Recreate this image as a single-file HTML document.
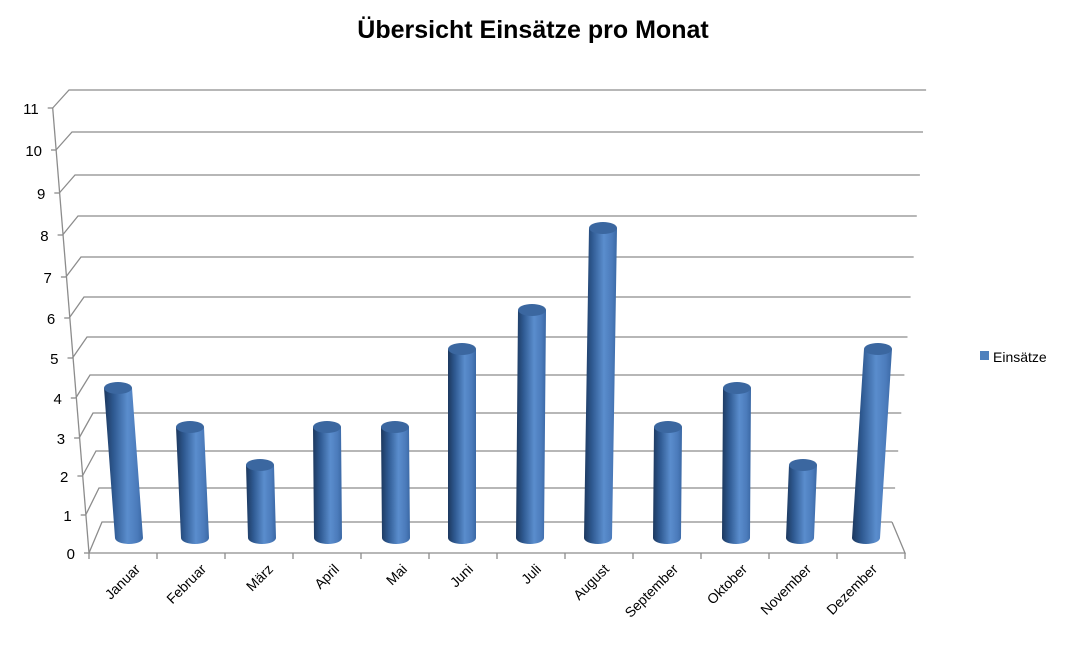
<!DOCTYPE html>
<html><head><meta charset="utf-8"><style>body{margin:0;background:#fff}svg{display:block}</style></head><body>
<svg width="1067" height="666" viewBox="0 0 1067 666" xmlns="http://www.w3.org/2000/svg" font-family="Liberation Sans, sans-serif">
<defs>
<linearGradient id="g" x1="0" x2="1" y1="0" y2="0">
<stop offset="0" stop-color="#1c385e"/><stop offset="0.25" stop-color="#2f5a92"/><stop offset="0.6" stop-color="#5a8dcd"/><stop offset="0.85" stop-color="#4b7bbb"/><stop offset="1" stop-color="#3a68a4"/>
</linearGradient>
</defs>
<rect width="1067" height="666" fill="#fff"/>
<text x="533" y="38" text-anchor="middle" font-size="25" font-weight="bold" fill="#000">Übersicht Einsätze pro Monat</text>
<g stroke="#8c8c8c" stroke-width="1.3" fill="none" id="grid"></g>
<g id="bars"></g>
<g id="lbl" font-size="15" fill="#000"></g>
<rect x="980" y="351" width="9" height="9" fill="#4f81bd"/>
<text x="993" y="362" font-size="14" fill="#000">Einsätze</text>
<script>
var ns="http://www.w3.org/2000/svg";
function el(t,a,p,txt){var e=document.createElementNS(ns,t);for(var k in a)e.setAttribute(k,a[k]);if(txt!=null)e.textContent=txt;p.appendChild(e);return e;}
var grid=document.getElementById('grid'),bars=document.getElementById('bars'),lbl=document.getElementById('lbl');
var by=[522,488,451,413,375,337,297,257,216,175,132,90];
var fys=[553,515,476,438,398,358,318,277,235,193,150,108];
for(var v=0;v<=11;v++){
 var bx=102-v*3,rx=892+v*3.1;
 var fyy=fys[v],fx=89-v*3.3;
 el('polyline',{points:fx+','+fyy+' '+bx+','+by[v]+' '+rx+','+by[v]},grid);
 el('line',{x1:fx-5,y1:fyy,x2:fx,y2:fyy},grid);
 el('text',{x:fx-14,y:fyy+6,'text-anchor':'end'},lbl,String(v));
}
el('line',{x1:89,y1:553,x2:52.7,y2:108},grid);
el('polyline',{points:'89,553 905,553 892,522'},grid);
for(var k=0;k<=12;k++){var x=89+k*68;el('line',{x1:x,y1:553,x2:x,y2:559},grid);}
var names=['Januar','Februar','März','April','Mai','Juni','Juli','August','September','Oktober','November','Dezember'];
var vals=[4,3,2,3,3,5,6,8,3,4,2,5];
var bc=[129,195,262,328,396,462,530,598,667,736,800,866];
var tc=[118,190,260,327,395,462,532,603,668,737,803,878];
var ty={2:465,3:427,4:388,5:349,6:310,8:228};
for(var i=0;i<12;i++){
 var r=14,yb=538,yt=ty[vals[i]],b=bc[i],t=tc[i];
 el('path',{d:'M'+(t-r)+','+yt+' L'+(b-r)+','+yb+' A'+r+',6 0 0 0 '+(b+r)+','+yb+' L'+(t+r)+','+yt+' Z',fill:'url(#g)'},bars);
 el('ellipse',{cx:t,cy:yt,rx:r,ry:6,fill:'#3b67a0'},bars);
 var lx=b+12,ly=570;
 el('text',{x:lx,y:ly,'text-anchor':'end',transform:'rotate(-45 '+lx+' '+ly+')','font-size':'14'},lbl,names[i]);
}
</script>
</svg>
</body></html>
